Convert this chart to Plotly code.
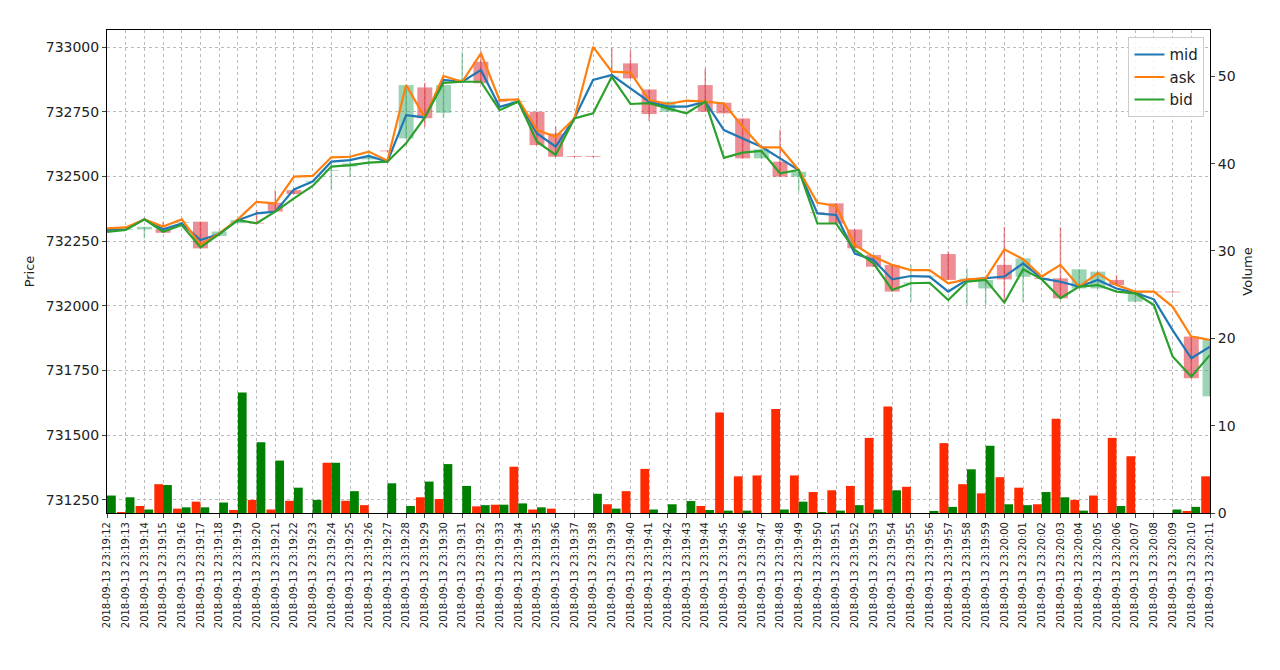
import plotly.graph_objects as go

times = ["2018-09-13 23:19:%02d" % s for s in range(12, 60)] + \
        ["2018-09-13 23:20:%02d" % s for s in range(0, 12)]

ask = [732299, 732303, 732334, 732306, 732334, 732235, 732280, 732334, 732402, 732396,
       732499, 732502, 732574, 732576, 732596, 732561, 732853, 732728, 732888, 732866,
       732976, 732795, 732798, 732679, 732653, 732724, 733001, 732905, 732901, 732795,
       732780, 732793, 732789, 732782, 732692, 732612, 732612, 732525, 732398, 732386,
       732235, 732190, 732158, 732138, 732138, 732087, 732102, 732106, 732218, 732180,
       732113, 732158, 732074, 732126, 732080, 732055, 732055, 731997, 731881, 731868]
mid = [732293, 732295, 732334, 732296, 732318, 732254, 732277, 732331, 732357, 732364,
       732450, 732480, 732557, 732563, 732579, 732557, 732737, 732728, 732873, 732866,
       732911, 732769, 732789, 732666, 732615, 732724, 732873, 732892, 732840, 732789,
       732770, 732770, 732789, 732679, 732647, 732615, 732570, 732525, 732357, 732351,
       732202, 732177, 732102, 732115, 732113, 732055, 732100, 732106, 732113, 732164,
       732106, 732093, 732074, 732100, 732067, 732050, 732025, 731906, 731797, 731842]
bid = [732286, 732293, 732334, 732286, 732312, 732226, 732277, 732331, 732319, 732364,
       732415, 732463, 732538, 732544, 732553, 732557, 732628, 732728, 732862, 732866,
       732866, 732756, 732789, 732634, 732583, 732724, 732744, 732885, 732780, 732783,
       732763, 732744, 732789, 732572, 732592, 732599, 732512, 732525, 732318, 732318,
       732216, 732164, 732061, 732087, 732089, 732022, 732093, 732100, 732012, 732141,
       732102, 732029, 732074, 732080, 732055, 732048, 732003, 731804, 731726, 731810]

c_open = [732288, 732293, 732295, 732296, 732320, 732325, 732270, 732319, 732320, 732398,
          732447, 732480, 732522, 732538, 732566, 732600, 732647, 732844, 732746, 732872,
          732943, 732795, 732789, 732750, 732666, 732579, 732579, 732885, 732937, 732836,
          732750, 732770, 732853, 732785, 732724, 732570, 732557, 732499, 732360, 732396,
          732295, 732196, 732158, 732085, 732113, 732200, 732100, 732067, 732158, 732112,
          732106, 732106, 732067, 732067, 732100, 732016, 732055, 732055, 731881, 731650]
c_close = [732294, 732296, 732305, 732282, 732321, 732222, 732287, 732331, 732318, 732364,
           732432, 732481, 732525, 732550, 732576, 732597, 732853, 732725, 732853, 732873,
           732860, 732789, 732791, 732621, 732576, 732576, 732576, 732883, 732879, 732741,
           732789, 732772, 732750, 732744, 732570, 732605, 732499, 732518, 732358, 732318,
           732222, 732151, 732055, 732090, 732114, 732100, 732105, 732100, 732102, 732183,
           732104, 732029, 732141, 732132, 732080, 732055, 732052, 732052, 731720, 731868]
c_high = [732296, 732298, 732305, 732325, 732322, 732325, 732287, 732331, 732370, 732447,
          732447, 732482, 732550, 732590, 732600, 732600, 732853, 732862, 732853, 732982,
          732985, 732796, 732792, 732750, 732692, 732580, 732580, 732995, 732987, 732836,
          732789, 732773, 732917, 732785, 732724, 732605, 732680, 732518, 732362, 732396,
          732295, 732196, 732158, 732158, 732116, 732210, 732145, 732100, 732305, 732183,
          732107, 732303, 732141, 732132, 732118, 732055, 732056, 732056, 731881, 731868]
c_low = [732286, 732292, 732260, 732282, 732319, 732222, 732270, 732319, 732318, 732364,
         732432, 732479, 732447, 732500, 732540, 732596, 732647, 732692, 732725, 732872,
         732860, 732788, 732788, 732621, 732576, 732575, 732575, 732883, 732879, 732715,
         732750, 732769, 732750, 732744, 732570, 732570, 732499, 732441, 732356, 732318,
         732222, 732151, 732055, 732016, 732112, 732100, 732003, 732003, 732016, 732016,
         732103, 732029, 732067, 732067, 732080, 732016, 732051, 732051, 731720, 731650]

vol_sell = [0, 0.1, 0.8, 3.3, 0.5, 1.3, 0, 0.35, 1.5, 0.4,
            1.4, 0, 5.75, 1.4, 0.9, 0, 0, 1.8, 1.6, 0,
            0.76, 0.95, 5.3, 0.4, 0.5, 0, 0, 1.0, 2.5, 5.05,
            0, 0, 0.8, 11.5, 4.2, 4.3, 11.9, 4.3, 2.4, 2.6,
            3.1, 8.6, 12.2, 3.0, 0, 8.0, 3.3, 2.25, 4.1, 2.9,
            1.0, 10.8, 1.5, 2.0, 8.6, 6.5, 0, 0, 0.2, 4.2]
vol_buy = [2.0, 1.8, 0.4, 3.2, 0.65, 0.65, 1.2, 13.8, 8.1, 6.0,
           2.9, 1.5, 5.75, 2.5, 0, 3.4, 0.8, 3.6, 5.6, 3.1,
           0.9, 0.95, 1.1, 0.65, 0, 0, 2.2, 0.5, 0, 0.4,
           1.0, 1.37, 0.34, 0.27, 0.27, 0, 0.4, 1.3, 0.1, 0.27,
           0.9, 0.4, 2.6, 0, 0.2, 0.7, 5.0, 7.7, 1.0, 0.9,
           2.4, 1.8, 0.27, 0, 0.8, 0, 0, 0.4, 0.7, 0]

price_ticks = [731250, 731500, 731750, 732000, 732250, 732500, 732750, 733000]
vol_ticks = [0, 10, 20, 30, 40, 50]

x = list(range(len(times)))

fig = go.Figure()

# candle bodies and wicks
body_base = [min(o, c) for o, c in zip(c_open, c_close)]
body_h = [max(abs(c - o), 3) for o, c in zip(c_open, c_close)]
body_col = ["rgba(60,170,110,0.5)" if c > o else "rgba(220,50,60,0.55)"
            for o, c in zip(c_open, c_close)]
for up in (True, False):
    wx, wy = [], []
    for i in x:
        if (c_close[i] > c_open[i]) == up:
            wx += [i, i, None]
            wy += [c_low[i], c_high[i], None]
    fig.add_trace(go.Scatter(x=wx, y=wy, mode="lines", showlegend=False, hoverinfo="skip",
                             line=dict(color="rgba(60,170,110,0.5)" if up else "rgba(220,50,60,0.55)",
                                       width=1.5)))
fig.add_trace(go.Bar(x=x, y=body_h, base=body_base, width=0.8, marker_color=body_col,
                     marker_line_width=0, showlegend=False))

fig.add_trace(go.Scatter(x=x, y=mid, mode="lines", name="mid", line=dict(color="#1f77b4", width=2.2)))
fig.add_trace(go.Scatter(x=x, y=ask, mode="lines", name="ask", line=dict(color="#ff7f0e", width=2.2)))
fig.add_trace(go.Scatter(x=x, y=bid, mode="lines", name="bid", line=dict(color="#2ca02c", width=2.2)))

fig.add_trace(go.Bar(x=x, y=vol_sell, width=0.47, offset=-0.47, marker_color="#ff2a00",
                     marker_line_width=0, yaxis="y2", showlegend=False))
fig.add_trace(go.Bar(x=x, y=vol_buy, width=0.47, offset=0, marker_color="#008000",
                     marker_line_width=0, yaxis="y2", showlegend=False))

fig.update_layout(
    width=1280, height=670,
    paper_bgcolor="white", plot_bgcolor="white",
    margin=dict(l=99, r=78, t=22, b=165),
    barmode="overlay",
    font=dict(family="DejaVu Sans", size=14, color="#222"),
    xaxis=dict(range=[0, 59], tickmode="array", tickvals=x, ticktext=times, tickangle=-90,
               tickfont=dict(size=10), showgrid=True, gridcolor="#bbb", griddash="dot",
               showline=True, linecolor="black", mirror=True, ticks="outside", ticklen=4,
               zeroline=False, automargin=False),
    yaxis=dict(title=dict(text="Price", standoff=8, font=dict(size=13)), range=[731199, 733066],
               tickvals=price_ticks, tickformat="d", showgrid=True, gridcolor="#bbb", griddash="dot",
               showline=True, linecolor="black", ticks="outside", ticklen=4, zeroline=False,
               automargin=False),
    yaxis2=dict(title=dict(text="Volume", standoff=8, font=dict(size=13)), overlaying="y", side="right",
                range=[0, 55.3], tickvals=vol_ticks, showgrid=False, showline=True,
                linecolor="black", ticks="outside", ticklen=4, zeroline=False, automargin=False),
    legend=dict(x=0.995, y=0.985, xanchor="right", yanchor="top", bgcolor="rgba(255,255,255,0.85)",
                bordercolor="#ccc", borderwidth=1, font=dict(size=15)),
)

fig.write_html("out.html")
